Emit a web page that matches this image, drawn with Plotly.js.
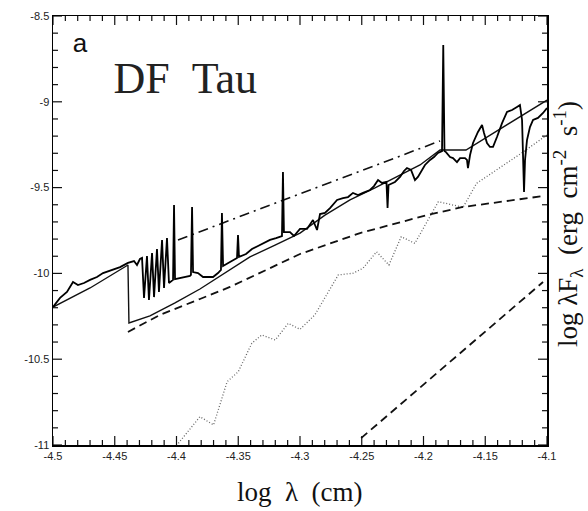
<!DOCTYPE html>
<html>
<head>
<meta charset="utf-8">
<script src="https://cdn.plot.ly/plotly-3.0.1.min.js"></script>
</head>
<body style="margin:0">
<div id="chart" style="width:588px;height:511px;"></div>
<script>
// Observed spectrum (log lambda, log lambda F_lambda)
var specX = [-4.5000,-4.4943,-4.4887,-4.4838,-4.4798,-4.4749,-4.4700,-4.4644,-4.4595,-4.4514,-4.4457,-4.4393,-4.4344,-4.4320,-4.4296,
  -4.4279,-4.4263,-4.4239,-4.4223,-4.4198,-4.4182,-4.4158,-4.4142,-4.4117,-4.4101,-4.4077,-4.4061,-4.4028,-4.4020,-4.4012,
  -4.3972,-4.3931,-4.3891,-4.3883,-4.3874,-4.3866,-4.3826,-4.3785,-4.3704,-4.3664,-4.3640,-4.3632,-4.3623,-4.3567,-4.3518,
  -4.3510,-4.3502,-4.3494,-4.3437,-4.3389,-4.3340,-4.3291,-4.3243,-4.3194,-4.3146,-4.3138,-4.3130,-4.3081,-4.3049,-4.3000,
  -4.2943,-4.2895,-4.2862,-4.2838,-4.2798,-4.2757,-4.2700,-4.2652,-4.2611,-4.2571,-4.2530,-4.2490,-4.2433,-4.2401,-4.2368,
  -4.2336,-4.2300,-4.2291,-4.2283,-4.2231,-4.2190,-4.2158,-4.2134,-4.2101,-4.2069,-4.2045,-4.2012,-4.1988,-4.1947,-4.1915,
  -4.1883,-4.1850,-4.1840,-4.1830,-4.1818,-4.1785,-4.1761,-4.1729,-4.1704,-4.1664,-4.1648,-4.1640,-4.1623,-4.1599,-4.1559,
  -4.1526,-4.1510,-4.1486,-4.1462,-4.1437,-4.1405,-4.1364,-4.1324,-4.1283,-4.1243,-4.1219,-4.1202,-4.1194,-4.1186,-4.1178,
  -4.1162,-4.1138,-4.1113,-4.1073,-4.1032,-4.1000];
var specY = [-10.196,-10.143,-10.108,-10.050,-10.068,-10.056,-10.038,-10.021,-9.998,-9.980,-9.963,-9.939,-9.928,-9.951,-9.916,
  -9.910,-10.143,-9.899,-10.155,-9.881,-10.138,-9.858,-10.108,-9.805,-10.085,-9.794,-10.056,-10.038,-9.601,-10.033,
  -10.027,-10.021,-10.015,-10.009,-9.613,-9.992,-9.998,-10.021,-10.021,-9.998,-9.980,-9.648,-9.957,-9.934,-9.916,
  -9.910,-9.776,-9.904,-9.887,-9.858,-9.840,-9.823,-9.805,-9.794,-9.782,-9.409,-9.759,-9.759,-9.782,-9.741,
  -9.741,-9.689,-9.747,-9.654,-9.648,-9.619,-9.572,-9.561,-9.555,-9.531,-9.543,-9.531,-9.514,-9.491,-9.456,
  -9.473,-9.467,-9.619,-9.485,-9.467,-9.438,-9.403,-9.386,-9.397,-9.456,-9.438,-9.397,-9.368,-9.339,-9.322,
  -9.298,-9.287,-8.669,-9.287,-9.293,-9.322,-9.328,-9.351,-9.328,-9.328,-9.339,-9.386,-9.310,-9.240,-9.176,
  -9.135,-9.182,-9.240,-9.263,-9.263,-9.205,-9.124,-9.059,-9.048,-9.030,-9.019,-9.106,-9.263,-9.526,-9.339,
  -9.223,-9.147,-9.106,-9.094,-9.065,-9.036];

// Total model (solid smooth line with Balmer jump)
var modelX = [-4.5000,-4.4700,-4.4393,-4.4385,-4.4215,-4.4012,-4.3810,-4.3607,-4.3405,-4.3202,-4.3000,-4.2798,-4.2595,-4.2393,-4.2190,-4.2028,-4.1866,-4.1656,-4.1000];
var modelY = [-10.196,-10.085,-9.951,-10.289,-10.248,-10.172,-10.091,-9.998,-9.904,-9.835,-9.765,-9.660,-9.572,-9.502,-9.427,-9.368,-9.281,-9.281,-8.990];

// Dash-dot component
var dashdotX = [-4.3988,-4.1866];
var dashdotY = [-9.805,-9.228];

// Upper dashed component
var dashX = [-4.4393,-4.4134,-4.3810,-4.3567,-4.3000,-4.2514,-4.1972,-4.1680,-4.1030];
var dashY = [-10.341,-10.242,-10.149,-10.079,-9.887,-9.765,-9.660,-9.613,-9.549];

// Lower dashed component
var dash2X = [-4.2505,-4.1032];
var dash2Y = [-10.960,-10.050];

// Dotted component
var dotX = [-4.3985,-4.3810,-4.3700,-4.3590,-4.3500,-4.3390,-4.3310,-4.3200,-4.3095,-4.3000,-4.2880,-4.2690,-4.2570,-4.2490,-4.2380,-4.2280,-4.2180,-4.2070,-4.1880,-4.1680,-4.1570,-4.1190,-4.1000];
var dotY = [-10.990,-10.835,-10.883,-10.631,-10.573,-10.407,-10.359,-10.388,-10.291,-10.326,-10.242,-10.009,-9.999,-9.970,-9.874,-9.951,-9.786,-9.825,-9.582,-9.615,-9.475,-9.291,-9.193];

// Tick labels
var xTickVals = [-4.5,-4.45,-4.4,-4.35,-4.3,-4.25,-4.2,-4.15,-4.1];
var xTickText = ["-4.5","-4.45","-4.4","-4.35","-4.3","-4.25","-4.2","-4.15","-4.1"];
var yTickVals = [-8.5,-9,-9.5,-10,-10.5,-11];
var yTickText = ["-8.5","-9","-9.5","-10","-10.5","-11"];
var xMinorStep = 0.01, yMinorStep = 0.1;

// Labels inside the plot
var labelText = ["a", "DF\u00a0\u00a0Tau"];

var W = 588, H = 511, M = {l:53, r:41, t:16, b:66};
var plotW = W - M.l - M.r, plotH = H - M.t - M.b;
var xR = [-4.5, -4.1], yR = [-11, -8.5];

// inside tick marks on all four sides, built from the tick arrays
function tickTrace(){
  var tx = [], ty = [], i, v;
  var xu = (yR[1] - yR[0]) / plotH;   // data units per px, vertical
  var yu = (xR[1] - xR[0]) / plotW;   // data units per px, horizontal
  var xLo = Math.min.apply(null, xTickVals), xHi = Math.max.apply(null, xTickVals);
  var nx = Math.round((xHi - xLo) / xMinorStep);
  for (i = 0; i <= nx; i++){
    v = +(xLo + i * xMinorStep).toFixed(4);
    var major = Math.abs(Math.round(v / 0.05) * 0.05 - v) < 1e-6;
    var L = (major ? 9 : 5) * xu;
    tx.push(v, v, null, v, v, null);
    ty.push(yR[0], yR[0] + L, null, yR[1], yR[1] - L, null);
  }
  var yLo = Math.min.apply(null, yTickVals), yHi = Math.max.apply(null, yTickVals);
  var ny = Math.round((yHi - yLo) / yMinorStep);
  for (i = 0; i <= ny; i++){
    v = +(yLo + i * yMinorStep).toFixed(4);
    var majorY = Math.abs(Math.round(v / 0.5) * 0.5 - v) < 1e-6;
    var LY = (majorY ? 9 : 5) * yu;
    tx.push(xR[0], xR[0] + LY, null, xR[1], xR[1] - LY, null);
    ty.push(v, v, null, v, v, null);
  }
  return {x: tx, y: ty, mode:'lines', line:{color:'#111', width:1.2}, connectgaps:false, cliponaxis:false};
}

var traces = [
  {x: dotX, y: dotY, mode:'lines', line:{color:'#666', width:1.3, dash:'1px,2px'}},
  {x: dash2X, y: dash2Y, mode:'lines', line:{color:'#111', width:1.8, dash:'8px,5px'}},
  {x: dashX, y: dashY, mode:'lines', line:{color:'#111', width:1.8, dash:'8px,5px'}},
  {x: dashdotX, y: dashdotY, mode:'lines', line:{color:'#111', width:1.6, dash:'10px,5px,2px,5px'}},
  {x: modelX, y: modelY, mode:'lines', line:{color:'#111', width:1.4}},
  {x: specX, y: specY, mode:'lines', line:{color:'#000', width:1.8}},
  tickTrace(),
  {x:[-4.4781], y:[-8.669], mode:'text', text:[labelText[0]], textposition:'middle center',
   textfont:{family:'Liberation Sans', size:26, color:'#111'}, cliponaxis:false},
  {x:[-4.4510], y:[-8.885], mode:'text', text:[labelText[1]], textposition:'middle right',
   textfont:{family:'Liberation Serif', size:44, color:'#222'}, cliponaxis:false}
];

var layout = {
  width:W, height:H,
  margin:M,
  showlegend:false,
  font:{family:'Liberation Serif', color:'#111'},
  xaxis:{
    range:xR, showgrid:false, zeroline:false,
    showline:true, linecolor:'black', linewidth:1.5, mirror:true,
    ticks:'', tickmode:'array', tickvals:xTickVals, ticktext:xTickText,
    tickfont:{family:'Liberation Sans', size:11, color:'#222'}
  },
  yaxis:{
    range:yR, showgrid:false, zeroline:false,
    showline:true, linecolor:'black', linewidth:1.5, mirror:true,
    ticks:'', tickmode:'array', tickvals:yTickVals, ticktext:yTickText,
    tickfont:{family:'Liberation Sans', size:11, color:'#222'}
  },
  annotations:[
    {text:'log\u00a0\u00a0λ\u00a0\u00a0(cm)', xref:'paper', yref:'paper', x:0.5, y:-0.11, xanchor:'center', yanchor:'middle', showarrow:false,
     font:{family:'Liberation Serif', size:27, color:'#111'}},
    {text:'log\u00a0λF<sub>λ</sub>\u00a0\u00a0(erg\u00a0\u00a0cm<sup>-2</sup>\u00a0\u00a0s<sup>-1</sup>)', xref:'paper', yref:'paper', x:1.0425, y:0.515,
     xanchor:'center', yanchor:'middle', textangle:-90, showarrow:false,
     font:{family:'Liberation Serif', size:27, color:'#111'}}
  ]
};
Plotly.newPlot('chart', traces, layout, {staticPlot:true});
</script>
</body>
</html>
